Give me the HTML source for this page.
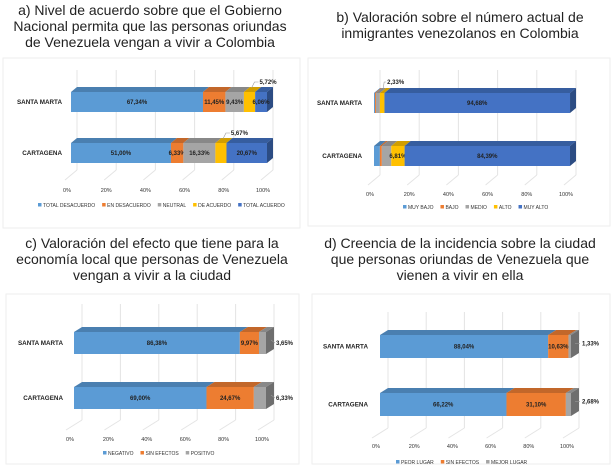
<!DOCTYPE html>
<html><head><meta charset="utf-8"><style>
body{margin:0;background:#fff;font-family:"Liberation Sans",sans-serif}
svg{display:block}
.t{font-size:14px;fill:#222;text-anchor:middle;font-family:"Liberation Sans",sans-serif}
.s{font-size:6px;font-weight:bold;fill:#222;font-family:"Liberation Sans",sans-serif}
</style></head><body>
<svg id="c" width="613" height="467">
<rect x="3" y="58" width="297" height="170" fill="none" stroke="#eee"/>
<rect x="308" y="58" width="302" height="168" fill="none" stroke="#eee"/>
<rect x="6" y="294" width="293" height="170" fill="none" stroke="#eee"/>
<rect x="312" y="294" width="298" height="170" fill="none" stroke="#eee"/>
<text class="t" x="150" y="15">a) Nivel de acuerdo sobre que el Gobierno</text>
<text class="t" x="150" y="31">Nacional permita que las personas oriundas</text>
<text class="t" x="150" y="47">de Venezuela vengan a vivir a Colombia</text>
<text class="t" x="460" y="22">b) Valoración sobre el número actual de</text>
<text class="t" x="460" y="38">inmigrantes venezolanos en Colombia</text>
<text class="t" x="152" y="248">c) Valoración del efecto que tiene para la</text>
<text class="t" x="152" y="264">economía local que personas de Venezuela</text>
<text class="t" x="152" y="280">vengan a vivir a la ciudad</text>
<text class="t" x="460" y="248">d) Creencia de la incidencia sobre la ciudad</text>
<text class="t" x="460" y="264">que personas oriundas de Venezuela que</text>
<text class="t" x="460" y="280">vienen a vivir en ella</text>
</svg>
<script>
const cities=["SANTA MARTA","CARTAGENA"];
const ticks=["0%","20%","40%","60%","80%","100%"];
const aSeries=["TOTAL DESACUERDO","EN DESACUERDO","NEUTRAL","DE ACUERDO","TOTAL ACUERDO"];
const aSM=[67.34,11.45,9.43,5.72,6.06];
const aCT=[51.00,6.33,16.33,5.67,20.67];
const bSeries=["MUY BAJO","BAJO","MEDIO","ALTO","MUY ALTO"];
const bSM=[0.5,0.5,2.0,2.33,94.68];
const bCT=[3.0,1.0,4.8,6.81,84.39];
const cSeries=["NEGATIVO","SIN EFECTOS","POSITIVO"];
const cSM=[86.38,9.97,3.65];
const cCT=[69.00,24.67,6.33];
const dSeries=["PEOR LUGAR","SIN EFECTOS","MEJOR LUGAR"];
const dSM=[88.04,10.63,1.33];
const dCT=[66.22,31.10,2.68];
const col5=["#5b9bd5","#ed7d31","#a5a5a5","#ffc000","#4472c4"];
const top5=["#4a7fb0","#c2672a","#888","#d19e00","#365d9f"];
const side5=["#3e6b94","#a3561f","#6e6e6e","#b08500","#2c4c83"];
const svg=document.getElementById('c');
const NS="http://www.w3.org/2000/svg";
function mk(t,a){const e=document.createElementNS(NS,t);for(const k in a)e.setAttribute(k,a[k]);svg.appendChild(e);return e;}
function fmt(v){return v.toFixed(2).replace('.',',')+'%';}
function panel(p,id,series,vals,bars,outside){
  const X=v=>p.x0+v/100*(p.x1-p.x0);
  const dx=p.dx,dy=p.dy;
  for(let i=0;i<ticks.length;i++){
    const x=X(i*20);
    let g=mk('line',{x1:x+dx,y1:p.gt,x2:x+dx,y2:p.gb,stroke:'#e4e4e4','stroke-width':1});
    
    g=mk('line',{x1:x+dx,y1:p.gb,x2:x-dx,y2:p.gb+10,stroke:'#e4e4e4','stroke-width':1});
    
    const t=mk('text',{x:x-4,y:p.ty,'font-size':5.5,'text-anchor':'middle',fill:'#333','font-family':'Liberation Sans'});
    t.textContent=ticks[i];
    
  }
  for(let r=0;r<2;r++){
    const v=vals[r],y=bars[r],h=p.h;
    const lab=mk('text',{x:p.lx,y:y+h/2+2,'font-size':6.3,'font-weight':'bold','text-anchor':'end',fill:'#222','font-family':'Liberation Sans'});
    lab.textContent=cities[r];
    
    let acc=0;
    for(let k=0;k<v.length;k++){
      const a=X(acc),b=X(acc+v[k]);acc+=v[k];
      let tp=mk('polygon',{points:`${a},${y} ${b},${y} ${b+dx},${y-dy} ${a+dx},${y-dy}`,fill:top5[p.ci[k]]});
      
      let f=mk('rect',{x:a,y:y,width:Math.max(0,b-a),height:h,fill:col5[p.ci[k]]});
      
      if(k==v.length-1){
        let sd=mk('polygon',{points:`${b},${y} ${b+dx},${y-dy} ${b+dx},${y+h-dy} ${b},${y+h}`,fill:side5[p.ci[k]]});
        
      }
      if(v[k]>=p.min){
        const t=mk('text',{x:(a+b)/2,y:y+h/2+2,'text-anchor':'middle',class:'s'});
        t.textContent=fmt(v[k]);
        
      }
    }
    if(outside){
      const o=outside(X,v,y,h);
      const t=mk('text',{x:o.x,y:o.y,class:'s'});
      t.textContent=fmt(v[o.k]);
      
      const l=mk('polyline',{points:o.line,fill:'none',stroke:'#999','stroke-width':0.6});
      
    }
  }
  let lx=p.legx;
  for(let k=0;k<series.length;k++){
    const s=mk('rect',{x:lx,y:p.legy-4,width:3.5,height:3.5,fill:col5[p.ci[k]]});
    
    const t=mk('text',{x:lx+5,y:p.legy,'font-size':5,fill:'#333','font-family':'Liberation Sans'});
    t.textContent=series[k];
    
    let w=0;try{w=t.getComputedTextLength();}catch(e){}
    if(!w)w=series[k].length*3.4;
    lx+=5+w+p.gap;
  }
}
panel({x0:71,x1:267,dx:6,dy:5,h:20,gt:70,gb:170,ty:192,lx:62,min:6,ci:[0,1,2,3,4],legx:38,legy:207,gap:7},'a',aSeries,[aSM,aCT],[92,143],
 (X,v,y,h)=>{const xm=X(v[0]+v[1]+v[2]+v[3]/2);return {k:3,x:xm+10,y:y-8,line:`${xm+2},${y-4} ${xm+5},${y-10} ${xm+9},${y-10}`};});
panel({x0:374,x1:570,dx:6,dy:5,h:20,gt:70,gb:175,ty:196,lx:362,min:6,ci:[0,1,2,3,4],legx:403,legy:209,gap:7},'b',bSeries,[bSM,bCT],[93,146],
 (X,v,y,h)=>{if(v[4]>90){const xm=X(v[0]+v[1]+v[2]+v[3]/2);return {k:3,x:xm+5,y:y-9,line:`${xm+1},${y-4} ${xm+2},${y-11} ${xm+4},${y-11}`};}return {k:3,x:-100,y:-100,line:''};});
panel({x0:74,x1:266,dx:8,dy:5,h:22,gt:304,gb:420,ty:441,lx:63,min:8,ci:[0,1,2],legx:103,legy:455,gap:7},'c',cSeries,[cSM,cCT],[332,387],
 (X,v,y,h)=>{const xe=X(100)+8;return {k:2,x:xe+2,y:y+h/2+2,line:`${xe-3},${y+h/2-3} ${xe+1},${y+h/2}`};});
panel({x0:380,x1:571,dx:8,dy:5,h:23,gt:312,gb:428,ty:448,lx:368,min:8,ci:[0,1,2],legx:396,legy:464,gap:7},'d',dSeries,[dSM,dCT],[335,393],
 (X,v,y,h)=>{const xe=X(100)+8;return {k:2,x:xe+3,y:y+h/2-1,line:`${xe-4},${y+h/2-3} ${xe+1},${y+h/2-3}`};});
</script>
</body></html>
